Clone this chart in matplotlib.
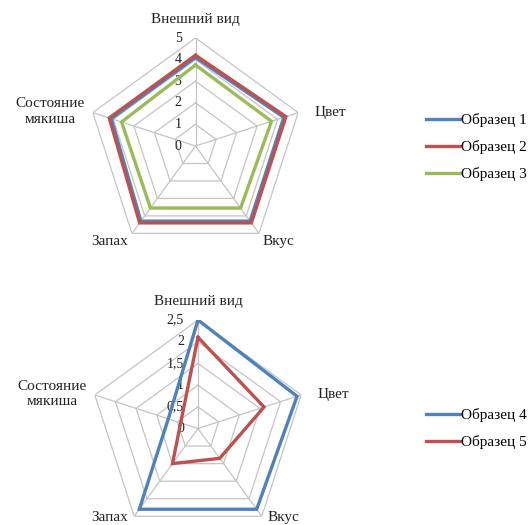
import numpy as np
import matplotlib
matplotlib.use("Agg")
import matplotlib.pyplot as plt

plt.rcParams['font.family'] = ['Liberation Serif', 'DejaVu Serif']

categories = ["Внешний вид", "Цвет", "Вкус", "Запах", "Состояние\nмякиша"]

# Upper chart: samples 1-3
sample1 = [4.1, 4.3, 4.3, 4.3, 4.1]
sample2 = [4.2, 4.4, 4.4, 4.4, 4.2]
sample3 = [3.75, 3.7, 3.55, 3.55, 3.6]
top_ticks = [0, 1, 2, 3, 4, 5]
top_tick_labels = ["0", "1", "2", "3", "4", "5"]

# Lower chart: samples 4-5
sample4 = [2.5, 2.4, 2.3, 2.3, 0.72]
sample5 = [2.1, 1.6, 0.85, 1.0, 0.42]
bottom_ticks = [0, 0.5, 1, 1.5, 2, 2.5]
bottom_tick_labels = ["0", "0,5", "1", "1,5", "2", "2,5"]

BLUE = "#4F81BD"
RED = "#C0504D"
GREEN = "#9BBB59"
GRID = "#c4c4c4"
TEXT = "#222222"

W, H = 531, 525
fig = plt.figure(figsize=(W / 100, H / 100), dpi=100)

n = len(categories)
angles = np.linspace(0, 2 * np.pi, n, endpoint=False)
closed = np.concatenate([angles, angles[:1]])

label_ha = ["center", "left", "center", "center", "center"]


def radar(center, radius, ticks, tick_labels, series, names, colors,
          legend_y, label_offsets):
    cx, cy = center
    ax = fig.add_axes([(cx - radius) / W, 1 - (cy + radius) / H,
                       2 * radius / W, 2 * radius / H], projection="polar")
    ax.set_theta_offset(np.pi / 2)
    ax.set_theta_direction(-1)
    rmax = ticks[-1]
    ax.set_ylim(0, rmax)
    ax.grid(False)
    ax.spines["polar"].set_visible(False)
    ax.set_xticks([])
    ax.set_yticks([])
    ax.patch.set_alpha(0)

    # pentagon grid rings and spokes
    for t in ticks[1:]:
        ax.plot(closed, [t] * len(closed), color=GRID, lw=0.9, zorder=1)
    for a in angles:
        ax.plot([a, a], [0, rmax], color=GRID, lw=0.9, zorder=1)

    # tick labels along the vertical axis
    for t, lab in zip(ticks, tick_labels):
        ax.annotate(lab, xy=(0, t), xytext=(-10, 0),
                    textcoords="offset points", ha="right", va="center",
                    fontsize=10, color=TEXT, zorder=2)

    lines = []
    for vals, name, col in zip(series, names, colors):
        v = list(vals) + [vals[0]]
        ln, = ax.plot(closed, v, color=col, lw=2.4, label=name, zorder=3,
                      solid_joinstyle="miter")
        lines.append(ln)

    # category names outside the outer ring (offsets given in pixels)
    for a, cat, (dx, dy), ha in zip(angles, categories, label_offsets,
                                    label_ha):
        ax.annotate(cat, xy=(a, rmax), xytext=(dx * 0.72, dy * 0.72),
                    textcoords="offset points", ha=ha, va="center",
                    fontsize=11, color=TEXT, annotation_clip=False,
                    linespacing=1.25)

    fig.legend(handles=lines, loc="center left",
               bbox_to_anchor=(420 / W, 1 - legend_y / H),
               frameon=False, fontsize=11, handlelength=2.2,
               handletextpad=0.1, labelspacing=0.85, borderaxespad=0)
    return ax


radar((195.5, 146), 108, top_ticks, top_tick_labels,
      [sample1, sample2, sample3], ["Образец 1", "Образец 2", "Образец 3"],
      [BLUE, RED, GREEN], 147,
      [(0, 18), (16, 0), (19, -8), (-22, -8), (-43, 1)])

radar((198, 428.5), 108.5, bottom_ticks, bottom_tick_labels,
      [sample4, sample5], ["Образец 4", "Образец 5"], [BLUE, RED], 428.5,
      [(0, 19), (16, 0), (22, -1), (-25, -1), (-43, 1)])

fig.savefig("out.png", dpi=100)
